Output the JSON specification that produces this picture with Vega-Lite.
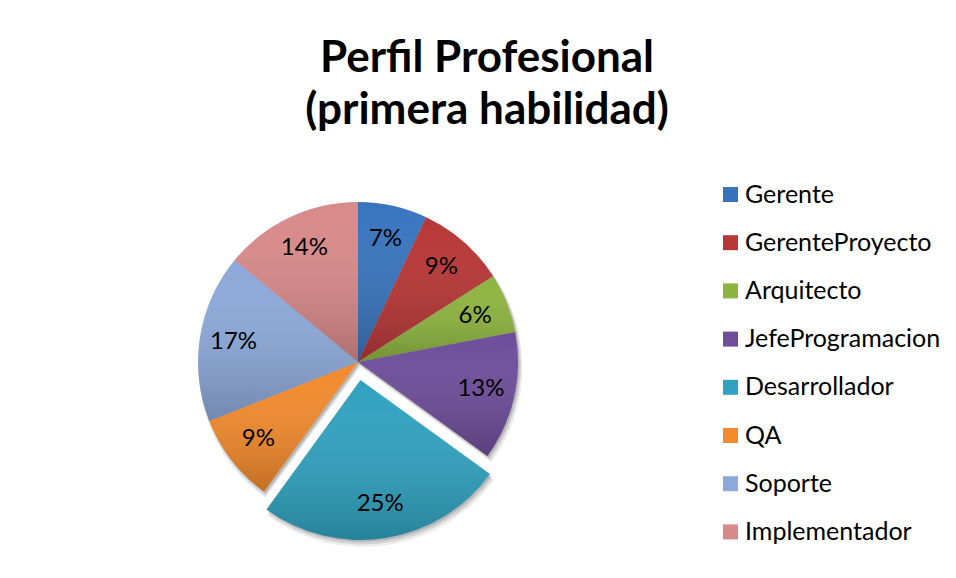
{
  "$schema": "https://vega.github.io/schema/vega-lite/v6.json",
  "width": 704,
  "height": 360,
  "autosize": {"type": "none"},
  "padding": {"left": 6, "top": 182, "right": 246, "bottom": 36},
  "background": "white",
  "config": {"view": {"stroke": null}},
  "title": {
    "text": ["Perfil  Profesional", "(primera habilidad)"],
    "font": "Lato", "fontSize": 44, "fontWeight": "bold", "lineHeight": 52,
    "color": "#000000", "anchor": "middle", "dx": 129, "offset": 49
  },
  "data": {
    "values": [
      {"c": "Gerente", "v": 0.07},
      {"c": "GerenteProyecto", "v": 0.09},
      {"c": "Arquitecto", "v": 0.06},
      {"c": "JefeProgramacion", "v": 0.13},
      {"c": "Desarrollador", "v": 0.25},
      {"c": "QA", "v": 0.09},
      {"c": "Soporte", "v": 0.17},
      {"c": "Implementador", "v": 0.14}
    ]
  },
  "transform": [{"stack": "v", "groupby": [], "as": ["v0", "v1"]}],
  "layer": [
    {
      "transform": [{"filter": "datum.c !== 'Desarrollador'"}],
      "mark": {"type": "arc", "radius": 162, "xOffset": 2.5, "yOffset": 5, "fill": "rgba(0,0,0,0.07)"},
      "encoding": {
        "theta": {"field": "v0", "type": "quantitative", "stack": null, "scale": {"domain": [0, 1]}},
        "theta2": {"field": "v1"}
      }
    },
    {
      "transform": [{"filter": "datum.c !== 'Desarrollador'"}],
      "mark": {"type": "arc", "radius": 161, "xOffset": 2, "yOffset": 3.5, "fill": "rgba(0,0,0,0.1)"},
      "encoding": {
        "theta": {"field": "v0", "type": "quantitative", "stack": null},
        "theta2": {"field": "v1"}
      }
    },
    {
      "transform": [{"filter": "datum.c !== 'Desarrollador'"}],
      "mark": {"type": "arc", "radius": 160, "xOffset": 1.5, "yOffset": 2, "fill": "rgba(0,0,0,0.14)"},
      "encoding": {
        "theta": {"field": "v0", "type": "quantitative", "stack": null},
        "theta2": {"field": "v1"}
      }
    },
    {
      "transform": [{"filter": "datum.c === 'Desarrollador'"}],
      "mark": {"type": "arc", "radius": 162, "xOffset": 5, "yOffset": 23, "fill": "rgba(0,0,0,0.07)"},
      "encoding": {
        "theta": {"field": "v0", "type": "quantitative", "stack": null},
        "theta2": {"field": "v1"}
      }
    },
    {
      "transform": [{"filter": "datum.c === 'Desarrollador'"}],
      "mark": {"type": "arc", "radius": 161, "xOffset": 4.5, "yOffset": 21.5, "fill": "rgba(0,0,0,0.1)"},
      "encoding": {
        "theta": {"field": "v0", "type": "quantitative", "stack": null},
        "theta2": {"field": "v1"}
      }
    },
    {
      "transform": [{"filter": "datum.c === 'Desarrollador'"}],
      "mark": {"type": "arc", "radius": 160, "xOffset": 4, "yOffset": 20, "fill": "rgba(0,0,0,0.14)"},
      "encoding": {
        "theta": {"field": "v0", "type": "quantitative", "stack": null},
        "theta2": {"field": "v1"}
      }
    },
    {
      "transform": [{"filter": "datum.c !== 'Desarrollador'"}],
      "mark": {"type": "arc", "radius": 160},
      "encoding": {
        "theta": {"field": "v0", "type": "quantitative", "stack": null},
        "theta2": {"field": "v1"},
        "color": {
          "field": "c", "type": "nominal",
          "scale": {
            "domain": ["Gerente", "GerenteProyecto", "Arquitecto", "JefeProgramacion", "Desarrollador", "QA", "Soporte", "Implementador"],
            "range": ["#3874BE", "#B83636", "#8DB43F", "#6E4D9B", "#30A2C0", "#F38A2C", "#8DA9DA", "#D88A89"]
          },
          "legend": {
            "title": null, "orient": "right", "offset": 8, "padding": 0,
            "symbolType": "square", "symbolSize": 225, "symbolStrokeWidth": 0, "symbolOpacity": 1,
            "labelFont": "Lato", "labelFontSize": 25, "labelColor": "#000000",
            "rowPadding": 22.2, "labelOffset": 2, "labelLimit": 300
          }
        }
      }
    },
    {
      "transform": [{"filter": "datum.c === 'Desarrollador'"}],
      "mark": {"type": "arc", "radius": 160, "xOffset": 2.5, "yOffset": 18},
      "encoding": {
        "theta": {"field": "v0", "type": "quantitative", "stack": null},
        "theta2": {"field": "v1"},
        "color": {"field": "c", "type": "nominal"}
      }
    },
    {
      "transform": [{"filter": "datum.c !== 'Desarrollador'"}],
      "mark": {
        "type": "arc", "radius": 160,
        "fill": {"gradient": "linear", "x1": 0, "y1": 0, "x2": 0, "y2": 1,
          "stops": [{"offset": 0, "color": "rgba(255,255,255,0)"}, {"offset": 1, "color": "rgba(0,0,0,0.2)"}]}
      },
      "encoding": {
        "theta": {"field": "v0", "type": "quantitative", "stack": null},
        "theta2": {"field": "v1"}
      }
    },
    {
      "transform": [{"filter": "datum.c === 'Desarrollador'"}],
      "mark": {
        "type": "arc", "radius": 160, "xOffset": 2.5, "yOffset": 18,
        "fill": {"gradient": "linear", "x1": 0, "y1": 0, "x2": 0, "y2": 1,
          "stops": [{"offset": 0, "color": "rgba(255,255,255,0)"}, {"offset": 1, "color": "rgba(0,0,0,0.2)"}]}
      },
      "encoding": {
        "theta": {"field": "v0", "type": "quantitative", "stack": null},
        "theta2": {"field": "v1"}
      }
    },
    {
      "mark": {"type": "text", "radius": 126, "font": "Lato", "fontSize": 24, "color": "#000000"},
      "encoding": {
        "theta": {"field": "v", "type": "quantitative", "stack": true},
        "order": {"field": "v0"},
        "detail": {"field": "c"},
        "text": {"field": "v", "format": ".0%"},
        "opacity": {"condition": {"test": "datum.c === 'Desarrollador'", "value": 0}, "value": 1}
      }
    },
    {
      "mark": {"type": "text", "radius": 126, "font": "Lato", "fontSize": 24, "color": "#000000", "dx": 2.5, "dy": 18},
      "encoding": {
        "theta": {"field": "v", "type": "quantitative", "stack": true},
        "order": {"field": "v0"},
        "detail": {"field": "c"},
        "text": {"field": "v", "format": ".0%"},
        "opacity": {"condition": {"test": "datum.c === 'Desarrollador'", "value": 1}, "value": 0}
      }
    }
  ]
}
